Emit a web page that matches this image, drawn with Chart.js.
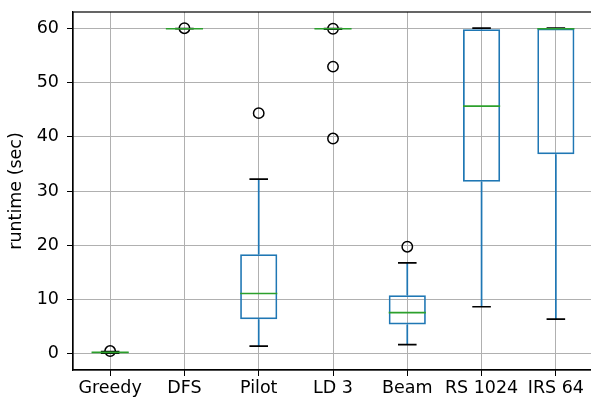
<!DOCTYPE html>
<html lang="en">
  <head>
    <meta charset="UTF-8" />
    <title>Runtime boxplot</title>
    <style>
      * {
        margin: 0;
        padding: 0;
      }
      body {
        background: white;
        overflow: hidden;
      }
    </style>
  </head>
  <body>
    <canvas id="myChart" width="600" height="400"></canvas>

    <script src="https://cdn.jsdelivr.net/npm/chart.js"></script>

    <script>
      // data block
      const categories = ["Greedy", "DFS", "Pilot", "LD 3", "Beam", "RS 1024", "IRS 64"];
      const whiskerLow = [0.02, 60.0, 1.3, 59.95, 1.6, 8.6, 6.3];
      const q1 = [0.08, 59.95, 6.3, 59.9, 5.3, 31.7, 36.8];
      const medians = [0.15, 60.0, 11.05, 60.0, 7.5, 45.7, 60.0];
      const q3 = [0.25, 60.05, 18.3, 60.05, 10.7, 59.9, 60.05];
      const whiskerHigh = [0.3, 60.05, 32.2, 60.05, 16.7, 60.1, 60.1];
      const outlierCats = ["Greedy", "DFS", "Pilot", "LD 3", "LD 3", "LD 3", "Beam"];
      const outlierVals = [0.4, 60.1, 44.4, 60.0, 53.0, 39.7, 19.7];
      const yTicks = [0, 10, 20, 30, 40, 50, 60];

      const boxColor = "#1f77b4";
      const medianColor = "#2ca02c";
      const fontSpec = { family: "DejaVu Sans", size: 17.5 };

      const data = {
        labels: categories,
        datasets: [
          {
            type: "bar",
            data: categories.map((c, i) => [q1[i], q3[i]]),
            backgroundColor: "rgba(0,0,0,0)",
            borderColor: boxColor,
            borderWidth: 1.7,
            borderSkipped: false,
            barPercentage: 0.5,
            categoryPercentage: 1.0
          },
          {
            type: "line",
            data: outlierCats.map((c, i) => ({ x: c, y: outlierVals[i] })),
            showLine: false,
            pointStyle: "circle",
            pointRadius: 5.2,
            pointBorderWidth: 1.5,
            pointBorderColor: "#000",
            pointBackgroundColor: "rgba(0,0,0,0)"
          }
        ]
      };

      // plugin block: whiskers, caps, medians, frame
      const boxParts = {
        id: "boxParts",
        beforeDatasetsDraw(chart) {
          const { ctx, scales: { x, y } } = chart;
          const step = x.getPixelForValue(1) - x.getPixelForValue(0);
          ctx.save();
          categories.forEach((c, i) => {
            const cx = x.getPixelForValue(i);
            // whiskers
            ctx.strokeStyle = boxColor;
            ctx.lineWidth = 1.7;
            ctx.beginPath();
            ctx.moveTo(cx, y.getPixelForValue(q3[i]));
            ctx.lineTo(cx, y.getPixelForValue(whiskerHigh[i]));
            ctx.moveTo(cx, y.getPixelForValue(q1[i]));
            ctx.lineTo(cx, y.getPixelForValue(whiskerLow[i]));
            ctx.stroke();
            // caps
            ctx.strokeStyle = "#000";
            ctx.beginPath();
            const hw = step * 0.125;
            ctx.moveTo(cx - hw, y.getPixelForValue(whiskerHigh[i]));
            ctx.lineTo(cx + hw, y.getPixelForValue(whiskerHigh[i]));
            ctx.moveTo(cx - hw, y.getPixelForValue(whiskerLow[i]));
            ctx.lineTo(cx + hw, y.getPixelForValue(whiskerLow[i]));
            ctx.stroke();
          });
          ctx.restore();
        },
        afterDatasetsDraw(chart) {
          const { ctx, scales: { x, y } } = chart;
          const step = x.getPixelForValue(1) - x.getPixelForValue(0);
          ctx.save();
          ctx.strokeStyle = medianColor;
          ctx.lineWidth = 1.7;
          categories.forEach((c, i) => {
            const cx = x.getPixelForValue(i);
            const my = y.getPixelForValue(medians[i]);
            ctx.beginPath();
            ctx.moveTo(cx - step * 0.25, my);
            ctx.lineTo(cx + step * 0.25, my);
            ctx.stroke();
          });
          ctx.restore();
        },
        afterDraw(chart) {
          const { ctx, chartArea: { left, top, right, bottom } } = chart;
          ctx.save();
          ctx.strokeStyle = "#000";
          ctx.lineWidth = 1.2;
          ctx.strokeRect(left, top, right - left, bottom - top);
          ctx.restore();
        }
      };

      // config block
      const config = {
        type: "bar",
        data,
        options: {
          responsive: false,
          animation: false,
          layout: {
            padding: { top: 12, right: 7, left: 0, bottom: 0 }
          },
          plugins: {
            legend: { display: false },
            tooltip: { enabled: false }
          },
          scales: {
            x: {
              type: "category",
              offset: true,
              afterFit(scale) {
                scale.height = 30;
                scale.paddingLeft = 0;
                scale.paddingRight = 0;
              },
              grid: {
                offset: false,
                color: "#b0b0b0",
                lineWidth: 1,
                tickColor: "#000",
                tickLength: 6
              },
              border: { display: true, color: "#000", width: 1.2 },
              ticks: {
                color: "#000",
                padding: 2,
                maxRotation: 0,
                autoSkip: false,
                font: fontSpec
              }
            },
            y: {
              min: -3.1,
              max: 63.1,
              afterFit(scale) {
                scale.width = 73;
                scale.paddingTop = 0;
                scale.paddingBottom = 0;
              },
              afterBuildTicks(scale) {
                scale.ticks = yTicks.map((v) => ({ value: v }));
              },
              grid: {
                color: "#b0b0b0",
                lineWidth: 1,
                tickColor: "#000",
                tickLength: 6
              },
              border: { display: true, color: "#000", width: 1.2 },
              ticks: {
                color: "#000",
                padding: 8,
                font: fontSpec
              },
              title: {
                display: true,
                text: "runtime (sec)",
                color: "#000",
                padding: { top: 6, bottom: 0 },
                font: fontSpec
              }
            }
          }
        },
        plugins: [boxParts]
      };

      // init render block
      const myChart = new Chart(document.getElementById("myChart"), config);
    </script>
  </body>
</html>
